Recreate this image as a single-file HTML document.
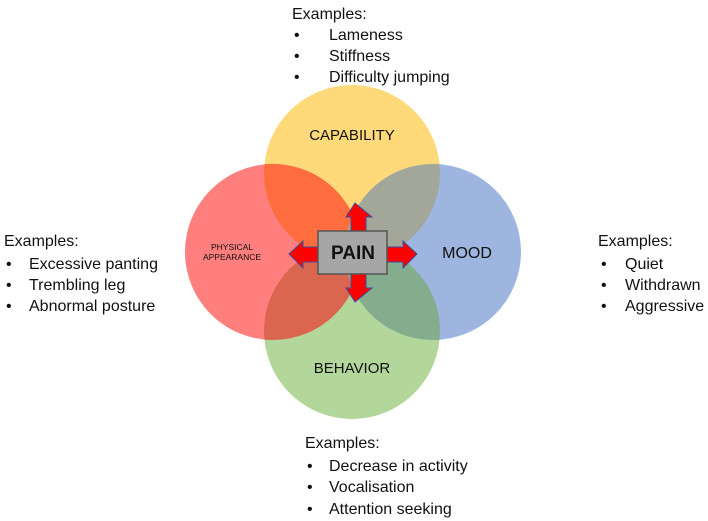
<!DOCTYPE html>
<html><head><meta charset="utf-8"><style>
html,body{margin:0;padding:0;background:#fff;}
body{width:708px;height:521px;position:relative;overflow:hidden;font-family:"Liberation Sans",sans-serif;}
svg{position:absolute;left:0;top:0;}
</style></head><body>
<svg width="708" height="521" viewBox="0 0 708 521" xmlns="http://www.w3.org/2000/svg">
<defs>
<clipPath id="cT"><circle cx="352" cy="173" r="88"/></clipPath>
<clipPath id="cB"><circle cx="352" cy="331" r="88"/></clipPath>
</defs>
<circle cx="352" cy="173" r="88" fill="#FFD97A"/>
<circle cx="352" cy="331" r="88" fill="#B3D69A"/>
<circle cx="273" cy="252" r="88" fill="#FF7F7F"/>
<circle cx="433" cy="252" r="88" fill="#9DB5DF"/>
<g clip-path="url(#cT)">
<circle cx="273" cy="252" r="88" fill="#FF6C3E"/>
<circle cx="433" cy="252" r="88" fill="#A3A79A"/>
</g>
<g clip-path="url(#cB)">
<circle cx="273" cy="252" r="88" fill="#DA6650"/>
<circle cx="433" cy="252" r="88" fill="#84AD8E"/>
</g>
<g fill="#FF0000" stroke="#3A4FA0" stroke-width="1">
<polygon points="352,203 369,217 363,217 363,232 348,232 348,217 343,217 352,203" transform="translate(3,0)"/>
<polygon points="355,302 372,288 366,288 366,273 351,273 351,288 346,288"/>
<polygon points="289,254 303,241 303,247 319,247 319,262 303,262 303,268"/>
<polygon points="417,254 403,241 403,247 386,247 386,262 403,262 403,268"/>
</g>
<rect x="318" y="231" width="69" height="43" fill="#A6A6A6" stroke="#555" stroke-width="1.5"/>
<g font-family="Liberation Sans, sans-serif" fill="#111" text-anchor="middle">
<text x="353" y="259" font-size="19" font-weight="bold">PAIN</text>
<text x="352" y="140" font-size="15">CAPABILITY</text>
<text x="467" y="258" font-size="16">MOOD</text>
<text x="352" y="373" font-size="15">BEHAVIOR</text>
<text x="232" y="250" font-size="8.5">PHYSICAL</text>
<text x="232" y="260" font-size="8.5">APPEARANCE</text>
</g>
<g font-family="Liberation Sans, sans-serif" font-size="16" fill="#111">
<text x="292" y="19">Examples:</text>
<text x="294" y="40">•</text><text x="329" y="40">Lameness</text>
<text x="294" y="61">•</text><text x="329" y="61">Stiffness</text>
<text x="294" y="82">•</text><text x="329" y="82">Difficulty jumping</text>

<text x="4" y="246">Examples:</text>
<text x="6" y="269">•</text><text x="29" y="269">Excessive panting</text>
<text x="6" y="290">•</text><text x="29" y="290">Trembling leg</text>
<text x="6" y="311">•</text><text x="29" y="311">Abnormal posture</text>

<text x="598" y="246">Examples:</text>
<text x="601" y="269">•</text><text x="625" y="269">Quiet</text>
<text x="601" y="290">•</text><text x="625" y="290">Withdrawn</text>
<text x="601" y="311">•</text><text x="625" y="311">Aggressive</text>

<text x="305" y="448">Examples:</text>
<text x="307" y="471">•</text><text x="329" y="471">Decrease in activity</text>
<text x="307" y="492">•</text><text x="329" y="492">Vocalisation</text>
<text x="307" y="514">•</text><text x="329" y="514">Attention seeking</text>
</g>
</svg>
</body></html>
